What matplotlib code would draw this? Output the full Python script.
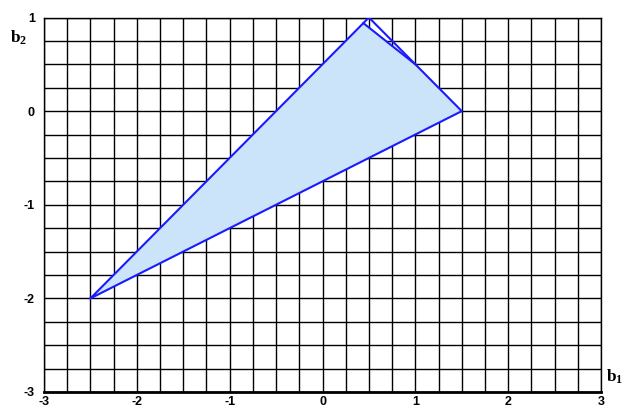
import matplotlib
matplotlib.use("Agg")
import matplotlib.pyplot as plt
import numpy as np

# Data
fill_x = [-2.5, 0.44, 1.0, 1.5]
fill_y = [-2.0, 0.94, 0.5, 0.0]
outline_x = [-2.5, 0.5, 1.5, -2.5]
outline_y = [-2.0, 1.0, 0.0, -2.0]
inner_x = [0.44, 1.0]
inner_y = [0.94, 0.5]
xticks = [-3, -2, -1, 0, 1, 2, 3]
yticks = [-3, -2, -1, 0, 1]

plt.rcParams['mathtext.fontset'] = 'custom'
plt.rcParams['mathtext.rm'] = 'Liberation Serif:bold'
plt.rcParams['mathtext.it'] = 'Liberation Serif:bold'
plt.rcParams['mathtext.bf'] = 'Liberation Serif:bold'

fig = plt.figure(figsize=(6.22, 4.08), dpi=100)
ax = fig.add_axes([44/622, 1-392/408, (601-44)/622, (392-17.5)/408])

ax.set_xlim(-3, 3)
ax.set_ylim(-3, 1)
minor = np.arange(-3, 3.01, 0.25)
minory = np.arange(-3, 1.01, 0.25)
for v in minor:
    ax.axvline(v, color='black', lw=1.0, zorder=1)
for v in minory:
    ax.axhline(v, color='black', lw=1.0, zorder=1)

ax.fill(fill_x, fill_y, color='#cce4fa', zorder=2, lw=0)
ax.plot(outline_x, outline_y, color='#1a1aff', lw=1.5, zorder=3)
ax.plot(inner_x, inner_y, color='#1a1aff', lw=1.5, zorder=3)

ax.set_xticks(xticks)
ax.set_yticks(yticks)
lab_font = dict(family='Liberation Sans', weight='bold', size=9)
ax.set_xticklabels([str(t) for t in xticks], fontdict=lab_font)
ax.set_yticklabels([str(t) for t in yticks], fontdict=lab_font)
ax.tick_params(axis='x', length=0, pad=3)
ax.tick_params(axis='y', length=0, pad=6.5)
for s in ['top', 'right']:
    ax.spines[s].set_linewidth(1.0)
ax.spines['left'].set_linewidth(1.0)
ax.spines['bottom'].set_linewidth(2.0)

fig.text(10/622, 1-43/408, r'$\mathrm{b_2}$', fontsize=12.5, ha='left', va='baseline')
fig.text(606/622, 1-382/408, r'$\mathrm{b_1}$', fontsize=12.5, ha='left', va='baseline')

fig.savefig('out.png', dpi=100)
